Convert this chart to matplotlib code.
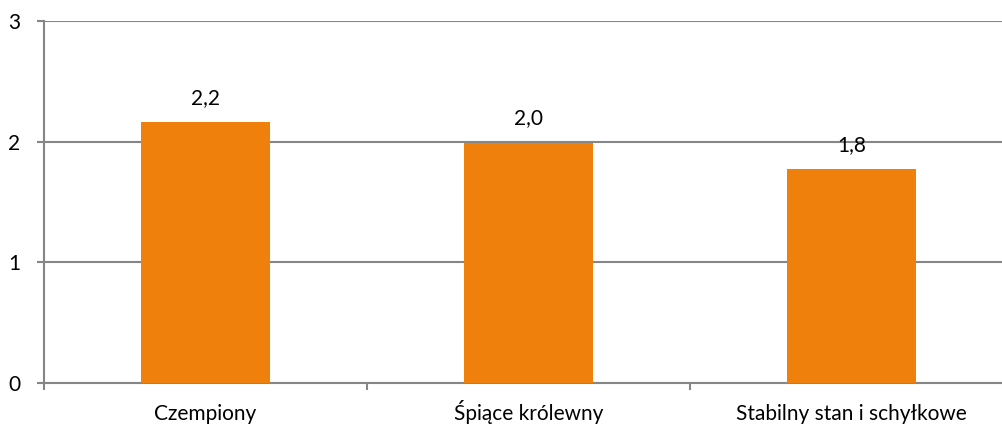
import matplotlib
matplotlib.use("Agg")
import matplotlib.pyplot as plt
from matplotlib.ticker import FixedLocator

categories = ["Czempiony", "Śpiące królewny", "Stabilny stan i schyłkowe"]
values = [2.16, 1.99, 1.77]
y_ticks = [0, 1, 2, 3]

plt.rcParams['font.family'] = ['Lato', 'DejaVu Sans']

grey = "#868686"
orange = "#F0800C"
fs = 15

fig = plt.figure(figsize=(10.03, 4.26), dpi=100)
ax = fig.add_axes([44 / 1003, 1 - 383 / 426, (1013 - 44) / 1003, (383 - 21) / 426])

x = range(len(categories))
ax.bar(x, values, width=0.40, color=orange, zorder=3)

for xi, v in zip(x, values):
    ax.text(xi, v + 0.12, f"{v:.1f}".replace(".", ","), ha="center", va="bottom",
            fontsize=fs, color="#000000")

ax.set_xlim(-0.5, len(categories) - 0.5)
ax.set_ylim(0, 3)
ax.set_yticks(y_ticks)
ax.set_yticklabels([str(t) for t in y_ticks], fontsize=fs)
ax.yaxis.grid(True, color=grey, linewidth=1.5, zorder=0)
ax.set_axisbelow(True)

ax.set_xticks(list(x))
ax.set_xticklabels(categories, fontsize=fs, va="baseline")
ax.tick_params(axis="x", length=0, pad=26.5)
ax.xaxis.set_minor_locator(FixedLocator([i + 0.5 for i in range(-1, len(categories))]))
ax.tick_params(axis="x", which="minor", length=5, width=1.5, color=grey)
ax.tick_params(axis="y", length=5, width=1.5, color=grey, pad=12)

for s in ["top", "right"]:
    ax.spines[s].set_visible(False)
for s in ["left", "bottom"]:
    ax.spines[s].set_color(grey)
    ax.spines[s].set_linewidth(1.5)

fig.savefig("out.png", dpi=100)
